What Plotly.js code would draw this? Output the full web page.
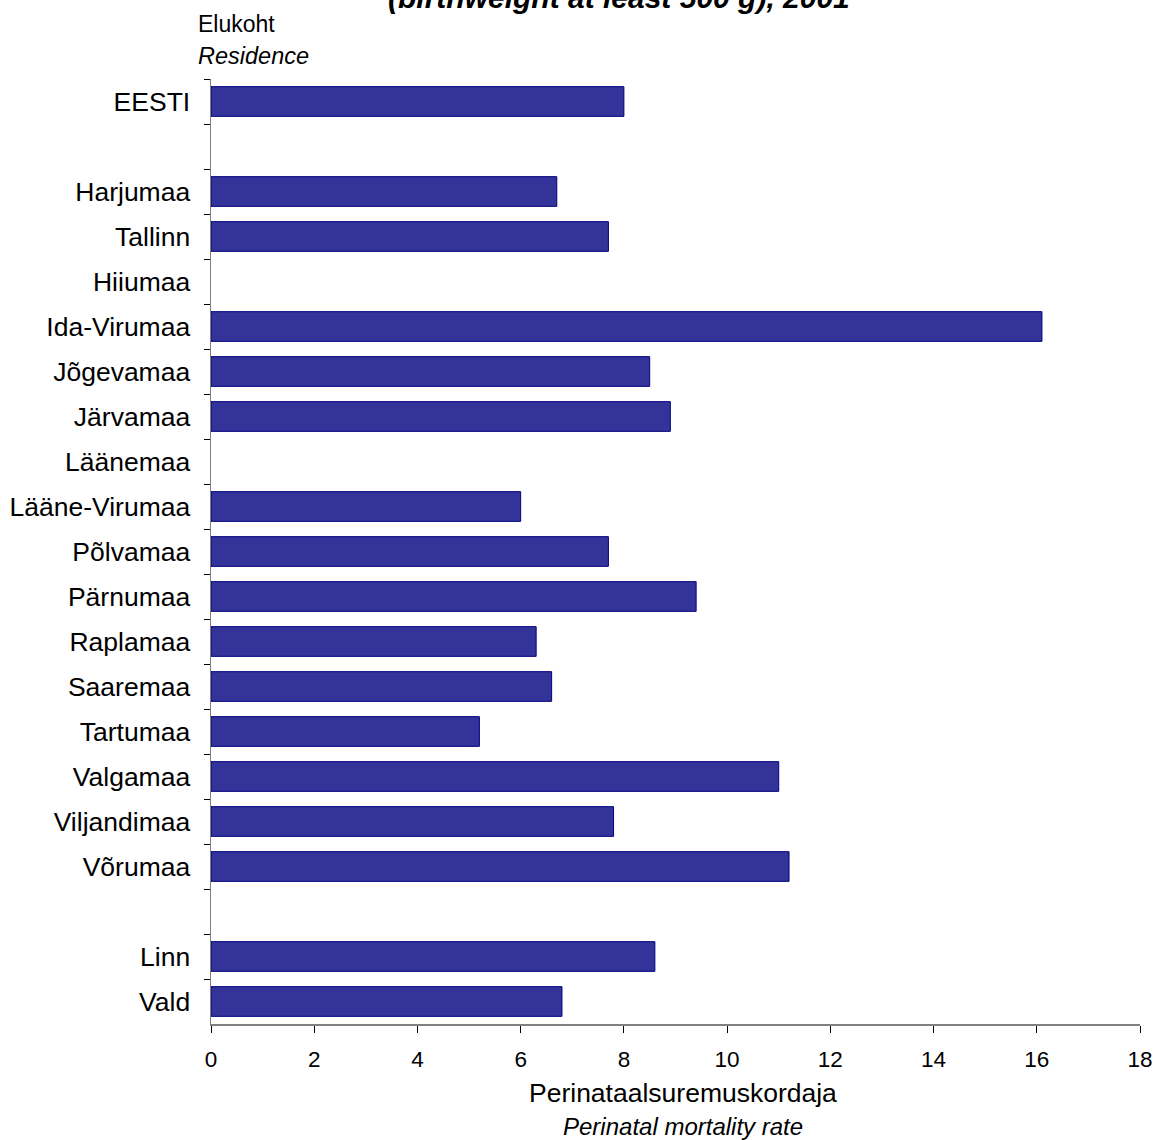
<!DOCTYPE html>
<html>
<head>
<meta charset="utf-8">
<script src="https://cdn.plot.ly/plotly-3.0.1.min.js"></script>
<style>html,body{margin:0;padding:0;background:#fff;}#chart{width:1157px;height:1140px;}</style>
</head>
<body>
<div id="chart"></div>
<script>
const categories = ["EESTI", " ", "Harjumaa", "Tallinn", "Hiiumaa", "Ida-Virumaa", "Jõgevamaa", "Järvamaa", "Läänemaa", "Lääne-Virumaa", "Põlvamaa", "Pärnumaa", "Raplamaa", "Saaremaa", "Tartumaa", "Valgamaa", "Viljandimaa", "Võrumaa", "  ", "Linn", "Vald"];
const rates = [8.0, null, 6.7, 7.7, null, 16.1, 8.5, 8.9, null, 6.0, 7.7, 9.4, 6.3, 6.6, 5.2, 11.0, 7.8, 11.2, null, 8.6, 6.8];
const xTicks = [0, 2, 4, 6, 8, 10, 12, 14, 16, 18];

const font = "Liberation Sans, Arial, sans-serif";
const trace = {
  type: "bar",
  orientation: "h",
  y: categories,
  x: rates,
  width: 0.66,
  marker: {color: "#333399", line: {color: "#000080", width: 1}},
  hoverinfo: "x+y"
};
const layout = {
  width: 1157, height: 1140,
  margin: {l: 211, r: 17, t: 78.5, b: 115.5, pad: 0},
  paper_bgcolor: "#ffffff", plot_bgcolor: "#ffffff",
  font: {family: font, color: "#000000"},
  showlegend: false,
  bargap: 0.34,
  xaxis: {
    range: [0, 18], tickvals: xTicks, ticktext: xTicks.map(String),
    showgrid: false, zeroline: false,
    showline: true, linecolor: "#808080", linewidth: 1.5,
    ticks: "outside", ticklen: 7, tickcolor: "#000000", tickwidth: 1,
    tickfont: {size: 22.5, family: font},
    ticklabelstandoff: 7
  },
  yaxis: {
    type: "category", categoryorder: "array", categoryarray: categories,
    range: [20.5, -0.5],
    showgrid: false, zeroline: false,
    showline: true, linecolor: "#808080", linewidth: 1.5,
    ticks: "outside", tickson: "boundaries", ticklen: 6, tickcolor: "#000000", tickwidth: 1,
    tickfont: {size: 26.5, family: font},
    ticklabelstandoff: 14
  },
  annotations: [
    {text: "Elukoht", xref: "paper", yref: "paper", x: 0, xshift: -15, y: 1, yshift: 55.5, xanchor: "left", yanchor: "middle", showarrow: false, font: {size: 23, family: font}},
    {text: "<i>Residence</i>", xref: "paper", yref: "paper", x: 0, xshift: -15, y: 1, yshift: 23.5, xanchor: "left", yanchor: "middle", showarrow: false, font: {size: 23.5, family: font}},
    {text: "<b><i>(birthweight at least 500 g), 2001</i></b>", xref: "paper", yref: "paper", x: 0.4387, y: 1, yshift: 81.5, xanchor: "center", yanchor: "middle", showarrow: false, font: {size: 30, family: font}},
    {text: "Perinataalsuremuskordaja", xref: "paper", yref: "paper", x: 0.5, xshift: 7.5, y: 0, yshift: -68.5, xanchor: "center", yanchor: "middle", showarrow: false, font: {size: 26.5, family: font}},
    {text: "<i>Perinatal mortality rate</i>", xref: "paper", yref: "paper", x: 0.5, xshift: 7, y: 0, yshift: -102.5, xanchor: "center", yanchor: "middle", showarrow: false, font: {size: 24, family: font}}
  ]
};
Plotly.newPlot("chart", [trace], layout, {displayModeBar: false, staticPlot: true});
</script>
</body>
</html>
